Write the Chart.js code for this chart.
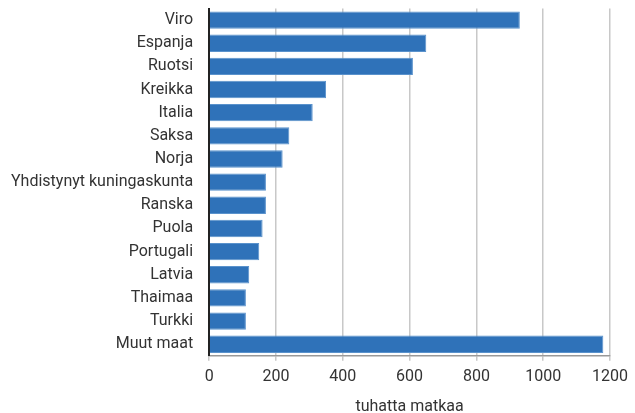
<!DOCTYPE html>
<html><head><meta charset="utf-8">
<script src="https://cdn.jsdelivr.net/npm/chart.js@4/dist/chart.umd.min.js"></script>
<style>html,body{margin:0;padding:0;background:#fff}#wrap{width:635px;height:413px}</style>
</head><body><div id="wrap"><canvas id="c"></canvas></div>
<script>
const categories = ["Viro","Espanja","Ruotsi","Kreikka","Italia","Saksa","Norja","Yhdistynyt kuningaskunta","Ranska","Puola","Portugali","Latvia","Thaimaa","Turkki","Muut maat"];
const values = [930,650,610,350,310,240,220,170,170,160,150,120,110,110,1180];
const xTicks = [0,200,400,600,800,1000,1200];
const axisTitle = "tuhatta matkaa";
const FONT = "Roboto";
new Chart(document.getElementById('c'), {
  type: 'bar',
  data: { labels: categories, datasets: [{ data: values, backgroundColor: '#2f72b9', borderColor: '#5a92cc', borderWidth: 1, barPercentage: 0.75, categoryPercentage: 1 }] },
  options: {
    indexAxis: 'y', responsive: true, maintainAspectRatio: false, animation: false,
    layout: { padding: { top: 8.5, right: 16, left: 3, bottom: 0 } },
    plugins: { legend: { display: false }, tooltip: { enabled: false } },
    scales: {
      x: { min: 0, max: 1200, afterBuildTicks: a => { a.ticks = xTicks.map(v => ({ value: v })); },
        grid: { color: '#c8c8c8', lineWidth: 1.5, drawTicks: true, tickLength: 5 },
        border: { display: true, color: '#999', width: 1.5 },
        ticks: { color: '#333', font: { family: FONT, size: 16 }, padding: 7, callback: v => String(v) },
        title: { display: true, text: axisTitle, color: '#333', font: { family: FONT, size: 16, lineHeight: 1 }, padding: { top: 5, bottom: -2 } } },
      y: { grid: { display: false }, border: { display: true, color: '#222', width: 2 },
        afterFit: s => { s.paddingTop = 0; s.paddingBottom = 0; },
        ticks: { color: '#333', font: { family: FONT, size: 16 }, padding: 8, autoSkip: false } }
    }
  }
});
</script></body></html>
